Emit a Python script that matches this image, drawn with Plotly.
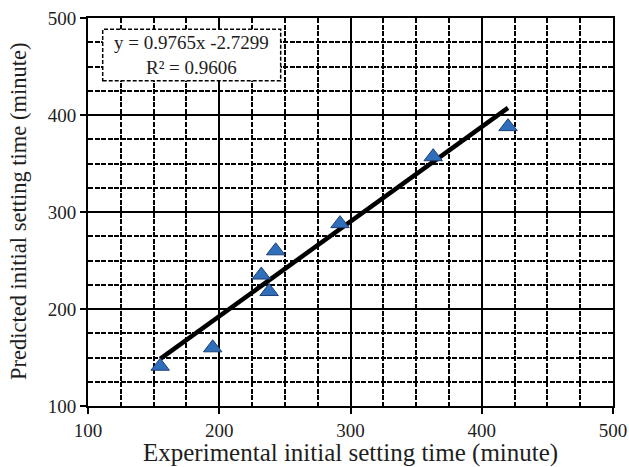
import plotly.graph_objects as go

# Data
experimental = [155, 195, 232, 238, 243, 292, 363, 420]
predicted = [141, 160, 235, 218, 260, 288, 357, 388]

slope = 0.9765
intercept = -2.7299
r_squared = 0.9606

x_ticks = [100, 200, 300, 400, 500]
y_ticks = [100, 200, 300, 400, 500]

x_title = "Experimental initial setting time (minute)"
y_title = "Predicted initial setting time (minute)"

fit_x = [min(experimental), max(experimental)]
fit_y = [slope * v + intercept for v in fit_x]

font_family = "Liberation Serif, Times New Roman, serif"
text_color = "#1e1e1e"

fig = go.Figure()
fig.add_trace(go.Scatter(
    x=fit_x, y=fit_y, mode="lines",
    line=dict(color="black", width=4.5),
    showlegend=False, hoverinfo="skip",
))
fig.add_trace(go.Scatter(
    x=experimental, y=predicted, mode="markers",
    marker=dict(symbol="triangle-up", size=16, color="#2F6EBA",
                line=dict(color="#1F3F73", width=1)),
    showlegend=False,
))

axis_common = dict(
    showline=True, mirror=True, linecolor="black", linewidth=2,
    showgrid=True, gridcolor="black", gridwidth=2,
    ticks="outside", ticklen=6, tickwidth=2, tickcolor="black",
    tickfont=dict(family=font_family, size=19, color=text_color),
    ticklabeloverflow="allow",
    zeroline=False, automargin=False,
    minor=dict(dtick=25, showgrid=True, gridcolor="black", gridwidth=2.4,
               griddash="5px,1.5px", ticks=""),
)

fig.update_xaxes(range=[100, 500], tickvals=x_ticks, **axis_common)
fig.update_yaxes(range=[100, 500], tickvals=y_ticks, **axis_common)

# axis titles
fig.add_annotation(xref="paper", yref="paper", x=0.5, y=-0.121, xanchor="center", yanchor="middle",
                   showarrow=False, text=x_title,
                   font=dict(family=font_family, size=25, color=text_color))
fig.add_annotation(xref="paper", yref="paper", x=-0.1333, y=0.5, xanchor="center", yanchor="middle",
                   showarrow=False, text=y_title, textangle=-90,
                   font=dict(family=font_family, size=22.5, color=text_color))

# equation box
fig.add_shape(type="rect", xref="x", yref="y", x0=111.2, x1=246.8, y0=435.4, y1=488.4,
              line=dict(color="black", width=1.5, dash="4px,2px"), fillcolor="white", layer="above")
fig.add_annotation(xref="x", yref="y", x=179, y=474.5, showarrow=False,
                   text=f"y = {slope}x -{abs(intercept)}",
                   font=dict(family=font_family, size=19, color=text_color))
fig.add_annotation(xref="x", yref="y", x=179, y=448.5, showarrow=False,
                   text=f"R² = {r_squared}",
                   font=dict(family=font_family, size=19, color=text_color))

fig.update_layout(
    width=629, height=467,
    margin=dict(l=88, r=16, t=18, b=61),
    paper_bgcolor="white", plot_bgcolor="white",
)

fig.write_html(
    "out.html",
    config={"displayModeBar": False},
    post_script="document.body.style.margin='0';document.body.style.overflow='hidden';",
)
